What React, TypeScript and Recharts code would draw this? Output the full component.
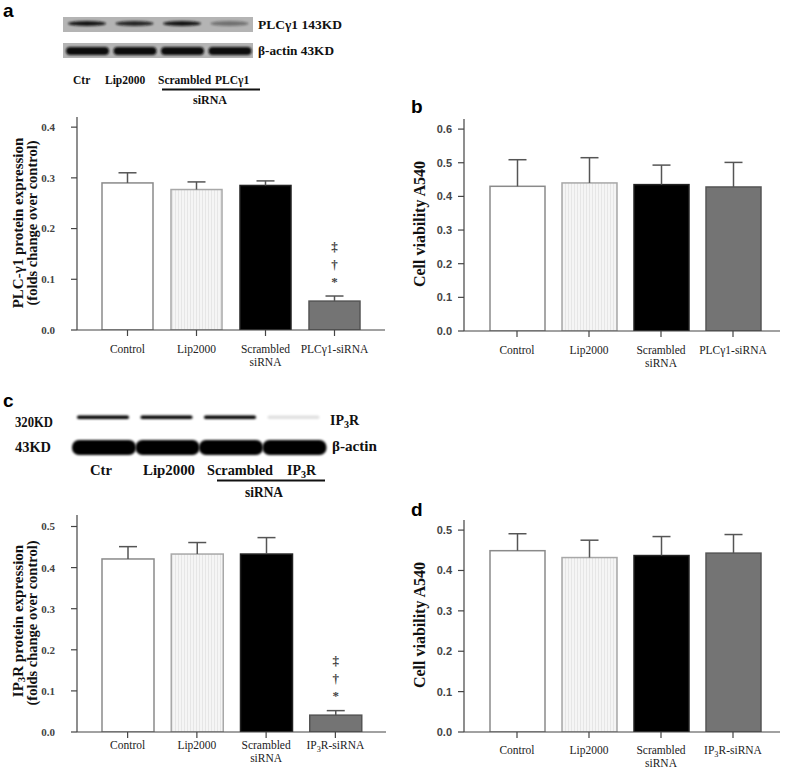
import React from "react";
import { BarChart, Bar, XAxis, YAxis } from "recharts";

// group labels shared by all four panels
const plcCategories = ["Control", "Lip2000", "Scrambled\nsiRNA", "PLCγ1-siRNA"];
const ip3rCategories = ["Control", "Lip2000", "Scrambled\nsiRNA", "IP3R-siRNA"];

// a: PLC-γ1 protein expression (mean, SEM)
const plcExpression = [0.29, 0.277, 0.285, 0.057];
const plcExpressionSem = [0.02, 0.015, 0.009, 0.01];
// b: cell viability after PLCγ1 knockdown
const plcViability = [0.43, 0.44, 0.435, 0.428];
const plcViabilitySem = [0.079, 0.075, 0.058, 0.073];
// c: IP3R protein expression
const ip3rExpression = [0.421, 0.433, 0.433, 0.041];
const ip3rExpressionSem = [0.03, 0.028, 0.04, 0.011];
// d: cell viability after IP3R knockdown
const ip3rViability = [0.449, 0.432, 0.437, 0.443];
const ip3rViabilitySem = [0.042, 0.043, 0.047, 0.046];

const significance = ["", "", "", "‡†*"];

const ticksA = [0, 0.1, 0.2, 0.3, 0.4];
const ticksB = [0, 0.1, 0.2, 0.3, 0.4, 0.5, 0.6];
const ticksCD = [0, 0.1, 0.2, 0.3, 0.4, 0.5];

// western blot band intensities (lanes Ctr, Lip2000, Scrambled, siRNA)
const plcBlot = [0.95, 0.85, 0.95, 0.4];
const ip3rBlot = [1, 1, 1, 0.12];

const SERIF = "'Liberation Serif', 'Times New Roman', serif";
const SANS = "'Liberation Sans', Arial, sans-serif";

const barFills = ["#ffffff", "url(#dots)", "#000000", "#747474"];
const barStrokes = ["#8a8a8a", "#a8a8a8", "#222222", "#555555"];

// renders "IP3R" with a subscript 3
const withSub = (s: string, key: string) => {
  const parts = s.split("IP3R");
  const out: React.ReactNode[] = [];
  parts.forEach((p, i) => {
    if (i > 0) {
      out.push(<tspan key={key + "a" + i}>IP</tspan>);
      out.push(
        <tspan key={key + "b" + i} dy={3} fontSize="0.72em">
          3
        </tspan>
      );
      out.push(
        <tspan key={key + "c" + i} dy={-3}>
          R
        </tspan>
      );
    }
    if (p) out.push(<tspan key={key + "p" + i}>{p}</tspan>);
  });
  return out;
};

const CatTick = (props: any) => {
  const { x, y, payload, dy1, gap } = props;
  const lines = String(payload.value).split("\n");
  return (
    <g>
      {lines.map((l, i) => (
        <text
          key={i}
          x={x}
          y={y + dy1 + i * gap}
          textAnchor="middle"
          fontFamily={SERIF}
          fontSize={11.5}
          fill="#222"
        >
          {withSub(l, "t" + i)}
        </text>
      ))}
    </g>
  );
};

const BarShape = (props: any) => {
  const { x, y, width, height, payload, index } = props;
  const perUnit = payload.mean ? height / payload.mean : 0;
  const errTop = y - payload.sem * perUnit;
  const cx = x + width / 2;
  const marks = payload.sig ? payload.sig.split("") : [];
  const offsets = [-50, -32, -15];
  return (
    <g>
      <rect
        x={x}
        y={y}
        width={width}
        height={height}
        fill={barFills[index]}
        stroke={barStrokes[index]}
        strokeWidth={1.5}
      />
      <line x1={cx} x2={cx} y1={y} y2={errTop} stroke="#555" strokeWidth={1.5} />
      <line x1={cx - 9} x2={cx + 9} y1={errTop} y2={errTop} stroke="#555" strokeWidth={1.5} />
      {marks.map((m: string, i: number) => (
        <text
          key={i}
          x={cx}
          y={errTop + offsets[i]}
          textAnchor="middle"
          dominantBaseline="central"
          fontFamily={SERIF}
          fontSize={13}
          fontWeight="bold"
          fill="#444"
        >
          {m}
        </text>
      ))}
    </g>
  );
};

type PanelProps = {
  cats: string[];
  means: number[];
  sems: number[];
  sig?: string[];
  left: number;
  top: number;
  width: number;
  height: number;
  margin: { top: number; right: number; bottom: number; left: number };
  yWidth: number;
  xHeight: number;
  domain: [number, number];
  ticks: number[];
  padL: number;
  padR: number;
  barSize: number;
  yFont: string;
  yTickMargin: number;
  dy1: number;
};

function Panel(p: PanelProps) {
  const data = p.cats.map((c, i) => ({
    name: c,
    mean: p.means[i],
    sem: p.sems[i],
    sig: p.sig ? p.sig[i] : "",
  }));
  return (
    <div style={{ position: "absolute", left: p.left, top: p.top }}>
      <BarChart width={p.width} height={p.height} data={data} margin={p.margin}>
        <XAxis
          xAxisId="top"
          dataKey="name"
          orientation="top"
          height={0}
          tick={false}
          tickLine={false}
          axisLine={{ stroke: "#9a9a9a", strokeWidth: 1.2 }}
          padding={{ left: p.padL, right: p.padR }}
        />
        <YAxis
          yAxisId="right"
          orientation="right"
          width={0}
          tick={false}
          tickLine={false}
          domain={p.domain}
          axisLine={{ stroke: "#9a9a9a", strokeWidth: 1.2 }}
        />
        <XAxis
          dataKey="name"
          height={p.xHeight}
          interval={0}
          padding={{ left: p.padL, right: p.padR }}
          tickSize={6}
          tickMargin={0}
          axisLine={{ stroke: "#444", strokeWidth: 1.2 }}
          tickLine={{ stroke: "#444", strokeWidth: 1.2 }}
          tick={(tp: any) => <CatTick {...tp} dy1={p.dy1} gap={12.5} />}
        />
        <YAxis
          width={p.yWidth}
          domain={p.domain}
          ticks={p.ticks}
          allowDataOverflow
          tickSize={6}
          tickMargin={p.yTickMargin}
          tickFormatter={(v: number) => v.toFixed(1)}
          axisLine={{ stroke: "#444", strokeWidth: 1.2 }}
          tickLine={{ stroke: "#444", strokeWidth: 1.2 }}
          tick={{ fontFamily: p.yFont, fontSize: 11, fontWeight: "bold", fill: "#444" }}
        />
        <Bar dataKey="mean" barSize={p.barSize} isAnimationActive={false} shape={<BarShape />} />
      </BarChart>
    </div>
  );
}

const boldSerif = { fontFamily: SERIF, fontWeight: "bold" as const, fill: "#111" };
const letter = { fontFamily: SANS, fontWeight: "bold" as const, fontSize: 19, fill: "#000" };

// fitted blot label: the text is squeezed to the width it has in the figure
const Fit = (props: { x: number; y: number; w: number; size: number; children: React.ReactNode }) => (
  <text
    x={props.x}
    y={props.y}
    fontSize={props.size}
    textLength={props.w}
    lengthAdjust="spacingAndGlyphs"
    {...boldSerif}
  >
    {props.children}
  </text>
);

function Overlay() {
  return (
    <svg
      width={787}
      height={768}
      style={{ position: "absolute", left: 0, top: 0, pointerEvents: "none" }}
    >
      <defs>
        <filter id="blur" x="-20%" y="-50%" width="140%" height="200%">
          <feGaussianBlur stdDeviation="1.1" />
        </filter>
      </defs>
      {/* panel letters */}
      <text x={3} y={17} {...letter}>a</text>
      <text x={411} y={113} {...letter}>b</text>
      <text x={3} y={407} {...letter}>c</text>
      <text x={411} y={516} {...letter}>d</text>

      {/* blot a */}
      <rect x={63} y={17} width={190} height={15} fill="#b4b4b4" />
      <rect x={63} y={43} width={190} height={15} fill="#b4b4b4" />
      {plcBlot.map((v, i) => (
        <ellipse
          key={"pa" + i}
          cx={87 + i * 47.5}
          cy={23.5}
          rx={19}
          ry={2.6}
          fill="#111"
          opacity={v}
          filter="url(#blur)"
        />
      ))}
      {plcBlot.map((_, i) => (
        <rect
          key={"pb" + i}
          x={66 + i * 47.5}
          y={47}
          width={43}
          height={8}
          rx={4}
          fill="#111"
          filter="url(#blur)"
        />
      ))}
      <Fit x={258} y={29} w={84} size={13}>PLCγ1 143KD</Fit>
      <Fit x={258} y={55} w={76} size={13}>β-actin 43KD</Fit>
      <text x={73} y={84} fontSize={11.5} {...boldSerif}>Ctr</text>
      <text x={105} y={84} fontSize={11.5} {...boldSerif}>Lip2000</text>
      <text x={158} y={84} fontSize={11.5} {...boldSerif}>Scrambled</text>
      <text x={215} y={84} fontSize={11.5} {...boldSerif}>PLCγ1</text>
      <line x1={162} x2={260} y1={89.5} y2={89.5} stroke="#111" strokeWidth={2} />
      <text x={210} y={104} fontSize={12} textAnchor="middle" {...boldSerif}>siRNA</text>

      {/* blot c */}
      {ip3rBlot.map((v, i) => (
        <rect
          key={"ca" + i}
          x={77 + i * 63.5}
          y={415.5}
          width={52}
          height={3.5}
          rx={1.7}
          fill="#000"
          opacity={v}
          filter="url(#blur)"
        />
      ))}
      {ip3rBlot.map((_, i) => (
        <rect
          key={"cb" + i}
          x={72 + i * 63.5}
          y={440}
          width={64}
          height={15}
          rx={7}
          fill="#000"
          filter="url(#blur)"
        />
      ))}
      <Fit x={15} y={427} w={38} size={14}>320KD</Fit>
      <Fit x={15} y={452} w={36} size={14}>43KD</Fit>
      <text x={330} y={425} fontSize={14} {...boldSerif}>{withSub("IP3R", "r")}</text>
      <Fit x={332} y={451} w={45} size={14}>β-actin</Fit>
      <Fit x={90} y={475} w={22} size={14}>Ctr</Fit>
      <Fit x={143} y={475} w={52} size={14}>Lip2000</Fit>
      <Fit x={207} y={475} w={66} size={14}>Scrambled</Fit>
      <text x={287} y={475} fontSize={14} {...boldSerif}>{withSub("IP3R", "l")}</text>
      <line x1={217} x2={325} y1={480.5} y2={480.5} stroke="#111" strokeWidth={2} />
      <Fit x={245} y={497} w={38} size={14}>siRNA</Fit>

      {/* y-axis titles */}
      <g transform="translate(18,223) rotate(-90)">
        <text x={0} y={0} textAnchor="middle" dominantBaseline="central" fontSize={15} {...boldSerif}>
          PLC-γ1 protein expression
        </text>
      </g>
      <g transform="translate(32,223) rotate(-90)">
        <text x={0} y={0} textAnchor="middle" dominantBaseline="central" fontSize={14.5} {...boldSerif}>
          (folds change over control)
        </text>
      </g>
      <g transform="translate(419,224) rotate(-90)">
        <text x={0} y={0} textAnchor="middle" dominantBaseline="central" fontSize={16} {...boldSerif}>
          Cell viability A540
        </text>
      </g>
      <g transform="translate(18,621) rotate(-90)">
        <text x={0} y={0} textAnchor="middle" dominantBaseline="central" fontSize={15} {...boldSerif}>
          {withSub("IP3R protein expression", "y")}
        </text>
      </g>
      <g transform="translate(32,623) rotate(-90)">
        <text x={0} y={0} textAnchor="middle" dominantBaseline="central" fontSize={14.5} {...boldSerif}>
          (folds change over control)
        </text>
      </g>
      <g transform="translate(419,625) rotate(-90)">
        <text x={0} y={0} textAnchor="middle" dominantBaseline="central" fontSize={16} {...boldSerif}>
          Cell viability A540
        </text>
      </g>
    </svg>
  );
}

export default function App() {
  return (
    <div
      style={{
        position: "absolute",
        left: 0,
        top: 0,
        width: 787,
        height: 768,
        background: "#fff",
        overflow: "hidden",
      }}
    >
      <svg width={0} height={0} style={{ position: "absolute" }}>
        <defs>
          <pattern id="dots" width={3} height={3} patternUnits="userSpaceOnUse">
            <rect width={3} height={3} fill="#f5f5f5" />
            <rect x={1} width={1} height={3} fill="#e6e6e6" />
          </pattern>
        </defs>
      </svg>
      <Panel
        cats={plcCategories}
        means={plcExpression}
        sems={plcExpressionSem}
        sig={significance}
        left={0}
        top={100}
        width={400}
        height={280}
        margin={{ top: 17, right: 15, bottom: 10, left: 0 }}
        yWidth={77}
        xHeight={40}
        domain={[0, 0.42]}
        ticks={ticksA}
        padL={16}
        padR={16}
        barSize={51}
        yFont={SERIF}
        yTickMargin={16}
        dy1={17}
      />
      <Panel
        cats={plcCategories}
        means={plcViability}
        sems={plcViabilitySem}
        left={390}
        top={100}
        width={397}
        height={280}
        margin={{ top: 19, right: 7, bottom: 9, left: 0 }}
        yWidth={74}
        xHeight={40}
        domain={[0, 0.63]}
        ticks={ticksB}
        padL={17}
        padR={11}
        barSize={55}
        yFont={SANS}
        yTickMargin={6}
        dy1={17}
      />
      <Panel
        cats={ip3rCategories}
        means={ip3rExpression}
        sems={ip3rExpressionSem}
        sig={significance}
        left={0}
        top={500}
        width={400}
        height={268}
        margin={{ top: 15, right: 14, bottom: 0, left: 0 }}
        yWidth={77}
        xHeight={36}
        domain={[0, 0.528]}
        ticks={ticksCD}
        padL={16}
        padR={16}
        barSize={52}
        yFont={SERIF}
        yTickMargin={16}
        dy1={11}
      />
      <Panel
        cats={ip3rCategories}
        means={ip3rViability}
        sems={ip3rViabilitySem}
        left={390}
        top={500}
        width={397}
        height={268}
        margin={{ top: 20, right: 7, bottom: 0, left: 0 }}
        yWidth={74}
        xHeight={36}
        domain={[0, 0.525]}
        ticks={ticksCD}
        padL={17}
        padR={11}
        barSize={55}
        yFont={SANS}
        yTickMargin={6}
        dy1={16}
      />
      <Overlay />
    </div>
  );
}
